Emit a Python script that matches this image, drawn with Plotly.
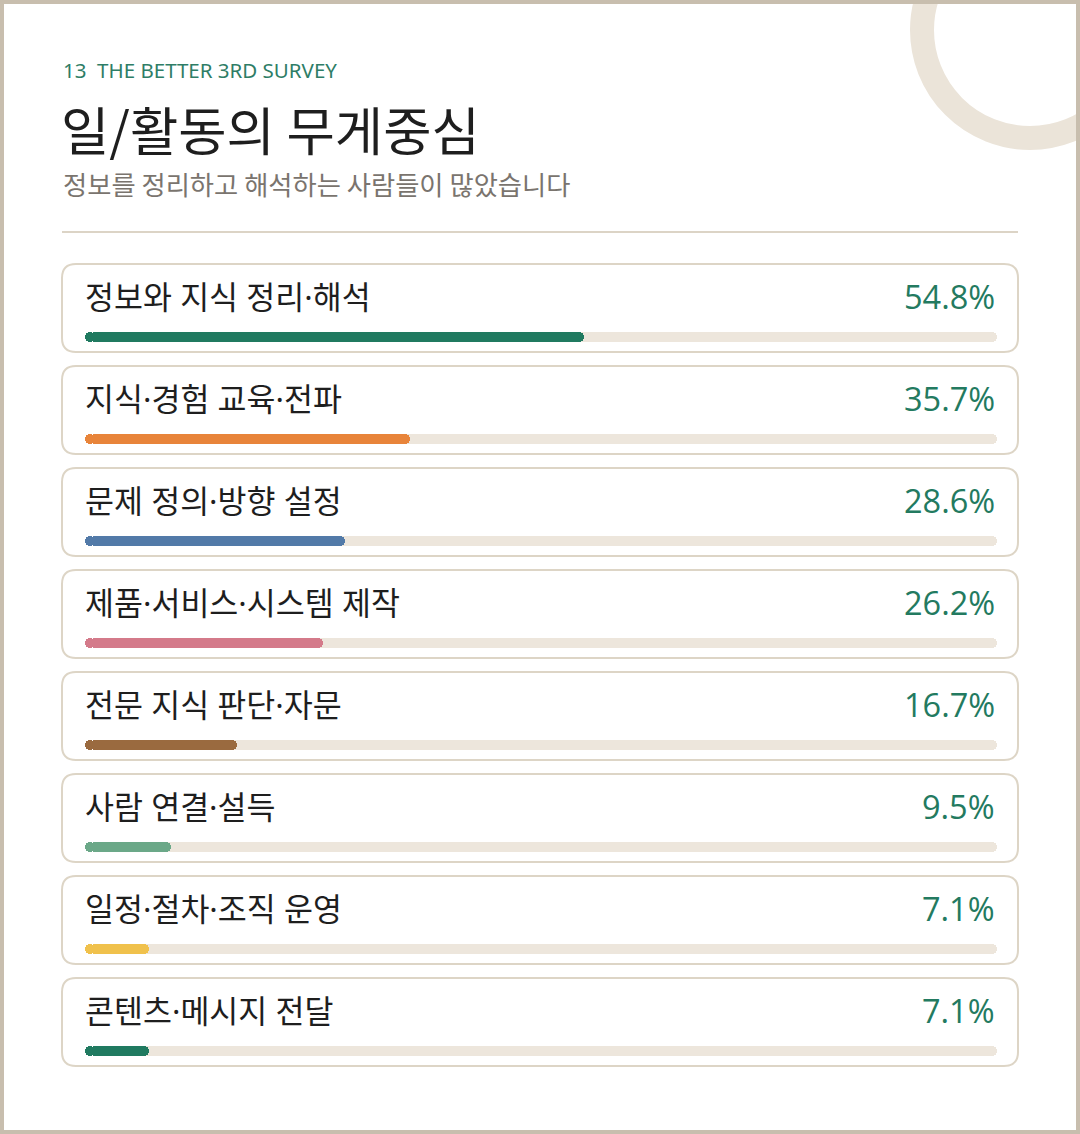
import plotly.graph_objects as go

# ---- data ----
categories = ["정보와 지식 정리·해석", "지식·경험 교육·전파", "문제 정의·방향 설정",
              "제품·서비스·시스템 제작", "전문 지식 판단·자문", "사람 연결·설득",
              "일정·절차·조직 운영", "콘텐츠·메시지 전달"]
values = [54.8, 35.7, 28.6, 26.2, 16.7, 9.5, 7.1, 7.1]
bar_colors = ["#207a60", "#e8843a", "#527aa8", "#d47a8a", "#9a6a3f", "#6ba888", "#f0c14c", "#207a60"]
kicker = "13\u00a0\u00a0THE BETTER 3RD SURVEY"
title = "일/활동의 무게중심"
subtitle = "정보를 정리하고 해석하는 사람들이 많았습니다"

# ---- layout geometry (pixels) ----
W, H = 1080, 1134
CARD_X0, CARD_X1 = 62, 1018
CARD_TOP0, PITCH, CARD_H = 264, 102.0, 88
TRACK_X0, TRACK_X1 = 84.5, 996.5
BAR_OFF, BAR_H = 73, 10
LABEL_OFF = 32

n = len(categories)
px_per_unit = (TRACK_X1 - TRACK_X0) / 100.0
x_range = [-TRACK_X0 / px_per_unit, (W - TRACK_X0) / px_per_unit]
bar0 = CARD_TOP0 + BAR_OFF
y_range = [(H - bar0) / PITCH, -bar0 / PITCH]
idx = list(range(n))
cap = (BAR_H / 2) / px_per_unit   # radius expressed in value units
bw = BAR_H / PITCH

KR = "Noto Sans, Noto Sans CJK KR"
LAT = "Noto Sans"

fig = go.Figure()

# helper invisible trace to create pixel axes x2/y2
fig.add_trace(go.Scatter(x=[0, W], y=[0, H], xaxis="x2", yaxis="y2", mode="markers",
                         marker=dict(opacity=0), hoverinfo="skip", showlegend=False))


def rounded_bar(vals, colors):
    fig.add_trace(go.Bar(x=[v - cap for v in vals], base=[cap] * n, y=idx, orientation="h",
                         width=bw, marker=dict(color=colors, line=dict(width=0)),
                         hoverinfo="skip", showlegend=False))
    fig.add_trace(go.Bar(x=[-2 * cap] * n, base=[2 * cap] * n, y=idx, orientation="h",
                         width=bw, marker=dict(color=colors, line=dict(width=0)),
                         hoverinfo="skip", showlegend=False))


rounded_bar([100] * n, ["#ede6dc"] * n)
rounded_bar(values, bar_colors)


def rrect(x0, y0, x1, y1, r):
    return (f"M{x0+r},{y0} L{x1-r},{y0} Q{x1},{y0} {x1},{y0+r} L{x1},{y1-r} "
            f"Q{x1},{y1} {x1-r},{y1} L{x0+r},{y1} Q{x0},{y1} {x0},{y1-r} "
            f"L{x0},{y0+r} Q{x0},{y0} {x0+r},{y0} Z")


shapes = []
rc, rr = (1030, 30), 108
shapes.append(dict(type="circle", xref="x2", yref="y2", layer="below",
                   x0=rc[0] - rr, x1=rc[0] + rr, y0=rc[1] - rr, y1=rc[1] + rr,
                   line=dict(color="#ebe4d9", width=24), fillcolor="rgba(0,0,0,0)"))
shapes.append(dict(type="line", xref="x2", yref="y2", layer="below",
                   x0=CARD_X0, x1=CARD_X1, y0=232, y1=232,
                   line=dict(color="#dcd4c6", width=2)))
for i in idx:
    t = CARD_TOP0 + PITCH * i
    shapes.append(dict(type="path", xref="x2", yref="y2", layer="below",
                       path=rrect(CARD_X0, t, CARD_X1, t + CARD_H, 14),
                       line=dict(color="#ddd5c6", width=2), fillcolor="white"))
shapes.append(dict(type="rect", xref="x2", yref="y2", layer="above",
                   x0=2, x1=W - 2, y0=2, y1=H - 2,
                   line=dict(color="#c8beae", width=4), fillcolor="rgba(0,0,0,0)"))

annotations = [
    dict(text=kicker, x=61, y=70, xref="x2", yref="y2", xanchor="left", yanchor="middle",
         showarrow=False, font=dict(family=LAT, size=20.5, color="#2e7d66")),
    dict(text=title, x=59, y=128, xref="x2", yref="y2", xanchor="left", yanchor="middle",
         showarrow=False, font=dict(family="Noto Sans CJK KR", size=52.5, color="#1e1e1e")),
    dict(text=subtitle, x=61, y=183, xref="x2", yref="y2", xanchor="left", yanchor="middle",
         showarrow=False, font=dict(family="Noto Sans CJK KR", size=26.3, color="#7a746e")),
]
for i, (c, v) in enumerate(zip(categories, values)):
    t = CARD_TOP0 + PITCH * i
    annotations.append(dict(text=c, x=83, y=t + LABEL_OFF, xref="x2", yref="y2",
                            xanchor="left", yanchor="middle", showarrow=False,
                            font=dict(family=KR, size=31.5, color="#1e1e1e")))
    annotations.append(dict(text=f"{v:.1f}%", x=997, y=t + LABEL_OFF, xref="x2", yref="y2",
                            xanchor="right", yanchor="middle", showarrow=False,
                            font=dict(family="Open Sans", size=32.5, weight=400, color="#237a60")))

fig.update_layout(
    width=W, height=H, margin=dict(l=0, r=0, t=0, b=0),
    paper_bgcolor="white", plot_bgcolor="rgba(0,0,0,0)",
    barmode="overlay", barcornerradius=5, bargap=0,
    xaxis=dict(range=x_range, visible=False, fixedrange=True),
    yaxis=dict(range=y_range, visible=False, fixedrange=True),
    xaxis2=dict(range=[0, W], visible=False, overlaying="x", fixedrange=True),
    yaxis2=dict(range=[H, 0], visible=False, overlaying="y", fixedrange=True),
    shapes=shapes, annotations=annotations,
)

fig.write_html("out.html", config=dict(displayModeBar=False, responsive=False),
               post_script="document.body.style.margin='0';")
